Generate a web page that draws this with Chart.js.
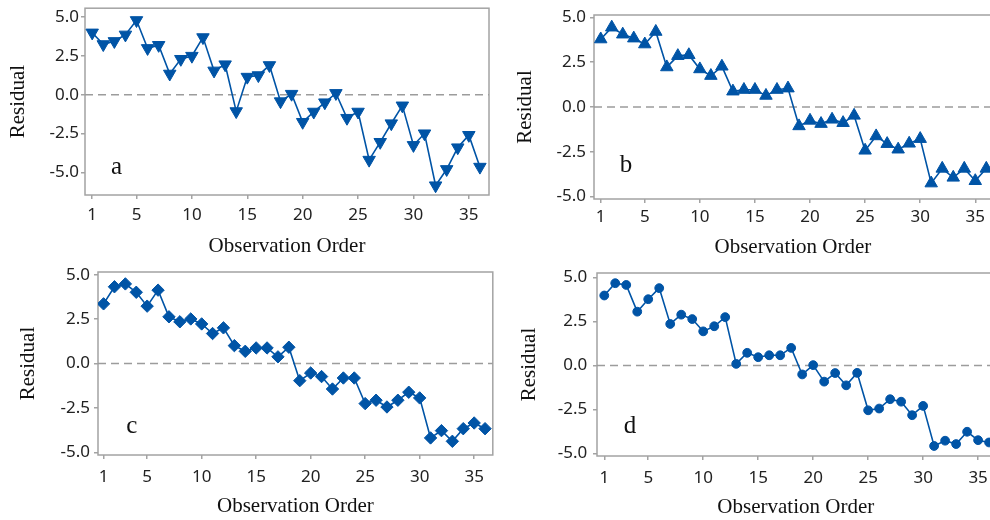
<!DOCTYPE html>
<html><head><meta charset="utf-8">
<script src="https://cdn.jsdelivr.net/npm/chart.js@4.4.1/dist/chart.umd.min.js"></script>
<style>
html,body{margin:0;padding:0;background:#fff;width:990px;height:520px;overflow:hidden;position:relative}
.p{position:absolute;width:500px;height:260px}
canvas{display:block}
</style></head><body>
<div class="p" style="left:0;top:0"><canvas id="ca" width="500" height="260"></canvas></div>
<div class="p" style="left:500px;top:0"><canvas id="cb" width="500" height="260"></canvas></div>
<div class="p" style="left:0;top:260px"><canvas id="cc" width="500" height="260"></canvas></div>
<div class="p" style="left:500px;top:260px"><canvas id="cd" width="500" height="260"></canvas></div>
<script>
// ---- data ----
const obs = [1,2,3,4,5,6,7,8,9,10,11,12,13,14,15,16,17,18,19,20,21,22,23,24,25,26,27,28,29,30,31,32,33,34,35,36];
const residA = [4.0,3.25,3.45,3.87,4.8,3.0,3.2,1.35,2.3,2.5,3.7,1.55,1.95,-1.07,1.15,1.25,1.9,-0.43,0.05,-1.76,-1.1,-0.5,0.1,-1.5,-1.1,-4.2,-3.05,-1.85,-0.7,-3.25,-2.5,-5.85,-4.8,-3.4,-2.6,-4.65];
const residB = [3.78,4.44,4.05,3.83,3.5,4.2,2.22,2.85,2.9,2.11,1.74,2.26,0.87,0.96,0.96,0.63,0.96,1.04,-1.07,-0.76,-0.94,-0.7,-0.89,-0.48,-2.43,-1.63,-2.06,-2.37,-2.04,-1.78,-4.26,-3.44,-3.94,-3.44,-4.13,-3.44];
const residC = [3.36,4.32,4.48,4.01,3.23,4.13,2.63,2.35,2.51,2.23,1.69,2.01,1.01,0.69,0.88,0.88,0.38,0.92,-0.96,-0.53,-0.73,-1.43,-0.81,-0.81,-2.25,-2.06,-2.44,-2.06,-1.61,-1.93,-4.18,-3.77,-4.37,-3.66,-3.34,-3.66];
const residD = [3.98,4.68,4.58,3.06,3.77,4.4,2.36,2.89,2.64,1.94,2.23,2.75,0.09,0.72,0.47,0.58,0.58,1.0,-0.51,0.02,-0.92,-0.43,-1.13,-0.42,-2.55,-2.45,-1.92,-2.06,-2.83,-2.3,-4.58,-4.28,-4.47,-3.77,-4.25,-4.38];
const panelLetters = ['a','b','c','d'];
const xTickValues = [1,5,10,15,20,25,30,35];
const yTickValues = [-5,-2.5,0,2.5,5];
const xTitle = 'Observation Order';
const yTitle = 'Residual';

// ---- styles ----
const BLUE = '#0054a6';
const FRAME = '#a3a3a3';
const ZERO = '#9c9c9c';
const TICKFONT = {family:'"Noto Sans", "Open Sans", sans-serif', size:17};
const TITLEFONT = {family:'"Liberation Serif", "Times New Roman", serif', size:21};

const framePlugin = {
  id:'frame',
  beforeDatasetsDraw(chart){
    const a = chart.chartArea, c = chart.ctx;
    c.save(); c.strokeStyle = FRAME; c.lineWidth = 1.5;
    c.strokeRect(a.left, a.top, a.right - a.left, a.bottom - a.top);
    c.restore();
  }
};
const letterPlugin = {
  id:'letter',
  afterDatasetsDraw(chart, args, opts){
    const c = chart.ctx;
    const px = chart.scales.x.getPixelForValue(opts.x);
    const py = chart.scales.y.getPixelForValue(opts.y);
    c.save(); c.fillStyle = '#111';
    c.font = opts.size + 'px "Liberation Serif", serif';
    c.textAlign = 'center'; c.textBaseline = 'alphabetic';
    c.fillText(opts.text, px, py);
    c.restore();
  }
};

function makePanel(id, values, mk, g){
  new Chart(document.getElementById(id), {
    type:'line',
    data:{datasets:[
      {data: obs.map((o,i)=>({x:o, y:values[i]})), borderColor:BLUE, backgroundColor:BLUE,
       borderWidth:1.6, pointStyle:mk.style, rotation:mk.rot, pointRadius:mk.r,
       pointBorderWidth:1, pointBorderColor:BLUE, pointBackgroundColor:BLUE, tension:0, order:0},
      {data:[{x:g.xmin,y:0},{x:g.xmax,y:0}], borderColor:ZERO, borderDash:[8,5], borderWidth:1.5,
       pointRadius:0, order:1}
    ]},
    options:{
      responsive:false, animation:false, devicePixelRatio:1,
      layout:{padding:{left:0, top:g.top, right:g.right, bottom:0}},
      plugins:{legend:{display:false}, tooltip:{enabled:false},
        letter:{text:g.letter, x:g.lx, y:g.ly, size:g.lsize}},
      scales:{
        x:{type:'linear', min:g.xmin, max:g.xmax,
          afterBuildTicks:s=>{s.ticks = xTickValues.map(v=>({value:v}));},
          afterFit:s=>{s.height = g.xH; s.paddingLeft = 0; s.paddingRight = 0;},
          grid:{drawOnChartArea:false, drawTicks:true, tickLength:4, color:FRAME, lineWidth:1.5},
          border:{display:false},
          ticks:{font:TICKFONT, color:'#222', padding:g.xtp, maxRotation:0, autoSkip:false, callback:v=>String(v)},
          title:{display:true, text:xTitle, font:TITLEFONT, color:'#111', padding:{top:0, bottom:g.xtb}}},
        y:{type:'linear', min:g.ymin, max:g.ymax,
          afterBuildTicks:s=>{s.ticks = yTickValues.map(v=>({value:v}));},
          afterFit:s=>{s.width = g.yW; s.paddingTop = 0; s.paddingBottom = 0;},
          grid:{drawOnChartArea:false, drawTicks:true, tickLength:4, color:FRAME, lineWidth:1.5},
          border:{display:false},
          ticks:{font:TICKFONT, color:'#222', padding:g.ytp, autoSkip:false, callback:v=>v.toFixed(1)},
          title:{display:true, text:yTitle, font:TITLEFONT, color:'#111', padding:{top:g.ytt, bottom:0}}}
      }
    },
    plugins:[framePlugin, letterPlugin]
  });
}

makePanel('ca', residA, {style:'triangle', rot:180, r:7.2},
  {xmin:0.35, xmax:36.82, ymin:-6.46, ymax:5.58, top:8, right:11, yW:85, xH:65,
   xtp:6, xtb:1.4, ytp:2, ytt:6, letter:panelLetters[0], lx:3.2, ly:-5.11, lsize:25});
makePanel('cb', residB, {style:'triangle', rot:0, r:7.2},
  {xmin:0.39, xmax:36.5, ymin:-5.14, ymax:5.13, top:15, right:6, yW:94, xH:61,
   xtp:3.5, xtb:0.4, ytp:4, ytt:13, letter:panelLetters[1], lx:3.29, ly:-3.66, lsize:25});
makePanel('cc', residC, {style:'rectRot', rot:0, r:6.2},
  {xmin:0.49, xmax:36.71, ymin:-5.14, ymax:5.15, top:12, right:1, yW:98, xH:65,
   xtp:7.5, xtb:1.4, ytp:4, ytt:16, letter:panelLetters[2], lx:3.59, ly:-3.9, lsize:25});
makePanel('cd', residD, {style:'circle', rot:0, r:4.4},
  {xmin:0.34, xmax:36.5, ymin:-5.15, ymax:5.26, top:13, right:5, yW:97, xH:64,
   xtp:7.8, xtb:0, ytp:5.7, ytt:16.5, letter:panelLetters[3], lx:3.35, ly:-3.82, lsize:25});
</script>
</body></html>
